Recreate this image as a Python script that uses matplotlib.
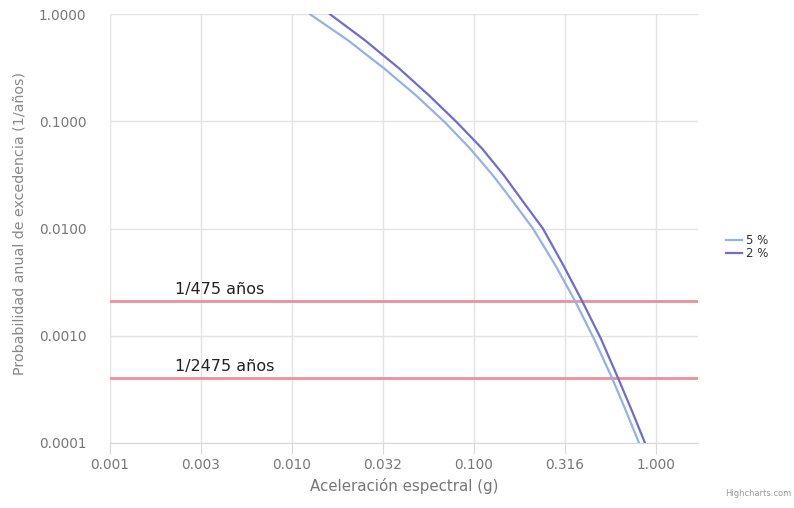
import numpy as np
import matplotlib
matplotlib.use("Agg")
import matplotlib.pyplot as plt
from matplotlib.ticker import FixedLocator, NullLocator

# valores
prob = [1.0, 0.571, 0.313, 0.175, 0.0979, 0.0559, 0.0313, 0.0179, 0.0100,
        0.00461, 0.00212, 0.000937, 0.000405, 0.000199, 0.0001]
acel_5 = [0.01256, 0.02031, 0.03202, 0.0480, 0.0693, 0.0951, 0.1272, 0.1637, 0.2110,
          0.2787, 0.3588, 0.4563, 0.5732, 0.6842, 0.8066]
acel_2 = [0.01618, 0.02518, 0.03872, 0.0566, 0.0806, 0.1107, 0.1462, 0.1858, 0.2393,
          0.3083, 0.3922, 0.4986, 0.6183, 0.7380, 0.8702]

series_names = ["5 %", "2 %"]
ref_probs = [1 / 475, 1 / 2475]
ref_labels = ["1/475 años", "1/2475 años"]

x_ticks = [0.001, 0.003162, 0.01, 0.03162, 0.1, 0.3162, 1.0]
x_ticklabels = ["0.001", "0.003", "0.010", "0.032", "0.100", "0.316", "1.000"]
y_ticks = [0.0001, 0.001, 0.01, 0.1, 1.0]
y_ticklabels = ["0.0001", "0.0010", "0.0100", "0.1000", "1.0000"]

fig = plt.figure(figsize=(7.94, 5.08), dpi=100)
ax = fig.add_axes([0.1385, 0.128, 0.7405, 0.844])

ax.set_xscale("log")
ax.set_yscale("log")
ax.set_xlim(0.001, 1.7)
ax.set_ylim(0.0001, 1.0)

for p, lab in zip(ref_probs, ref_labels):
    ax.axhline(p, color="#ec8f9a", lw=2, zorder=2)
    ax.text(0.00228, p * 1.1, lab, fontsize=11.5, color="#222222", ha="left", va="bottom", zorder=3)

ax.plot(acel_5, prob, color="#94b2ea", lw=1.6, label=series_names[0], zorder=4)
ax.plot(acel_2, prob, color="#6e6cd4", lw=1.6, label=series_names[1], zorder=4)

ax.xaxis.set_major_locator(FixedLocator(x_ticks))
ax.xaxis.set_minor_locator(NullLocator())
ax.set_xticklabels(x_ticklabels)
ax.yaxis.set_major_locator(FixedLocator(y_ticks))
ax.yaxis.set_minor_locator(NullLocator())
ax.set_yticklabels(y_ticklabels)

ax.grid(True, color="#e3e3e3", lw=1, zorder=0)
for s in ["top", "right", "left"]:
    ax.spines[s].set_visible(False)
ax.spines["bottom"].set_color("#d8d8d8")
ax.tick_params(axis="x", length=8, color="#d8d8d8", labelsize=9.8, labelcolor="#777777", pad=3)
ax.tick_params(axis="y", length=0, labelsize=9.8, labelcolor="#777777", pad=17)

ax.set_xlabel("Aceleración espectral (g)", fontsize=10.8, color="#777777", labelpad=4)
ax.set_ylabel("Probabilidad anual de excedencia (1/años)", fontsize=10.3, color="#888888")
ax.yaxis.set_label_coords(-0.142, 0.513)

leg = ax.legend(loc="center left", bbox_to_anchor=(1.03, 0.457), frameon=False, fontsize=8.5,
                handlelength=1.3, handletextpad=0.4, labelspacing=0.05, labelcolor="#333333")

fig.text(0.997, 0.02, "Highcharts.com", fontsize=6, color="#999999", ha="right", va="bottom")

fig.savefig("out.png", dpi=100)
